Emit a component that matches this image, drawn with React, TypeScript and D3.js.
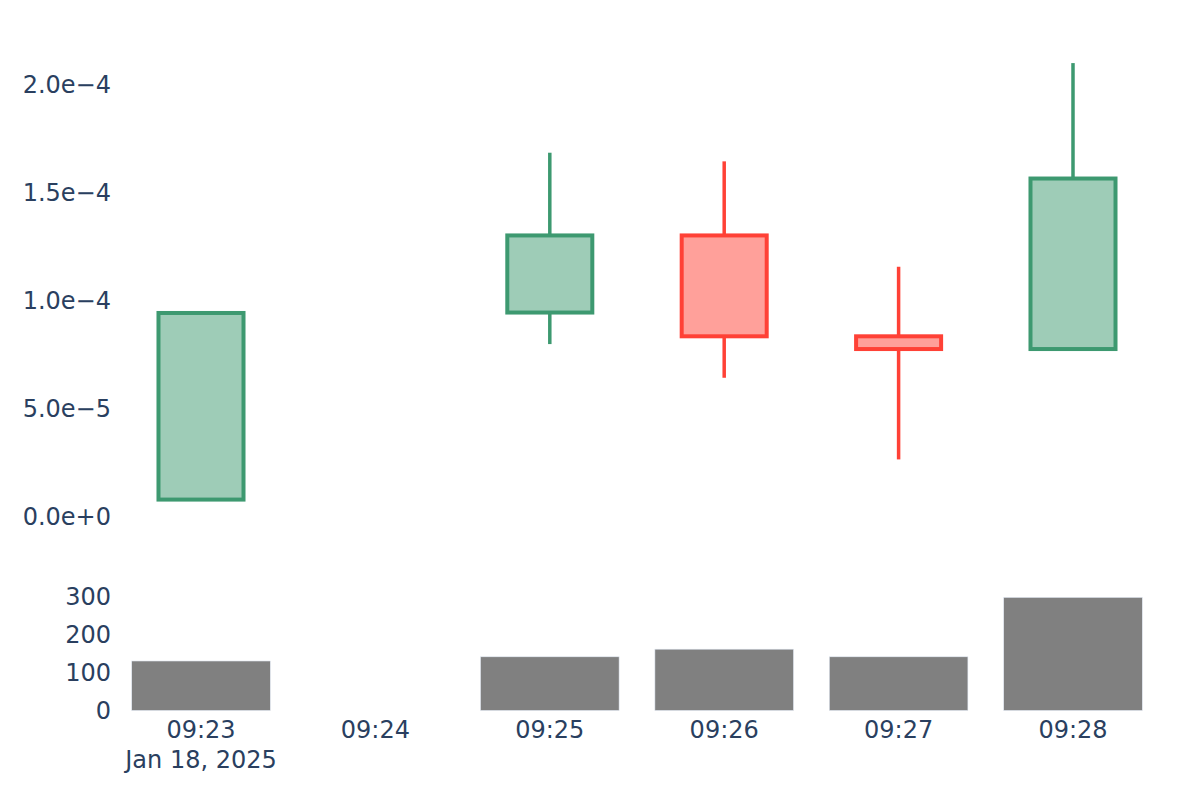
import React from "react";
import * as d3 from "d3";

const times = ["09:23", "09:24", "09:25", "09:26", "09:27", "09:28"];
const dateLabel = "Jan 18, 2025";
const openVals: (number | null)[] = [7.6e-6, null, 9.42e-5, 1.299e-4, 8.32e-5, 7.73e-5];
const highVals: (number | null)[] = [9.4e-5, null, 1.682e-4, 1.642e-4, 1.154e-4, 2.097e-4];
const lowVals: (number | null)[] = [7.6e-6, null, 7.96e-5, 6.4e-5, 2.62e-5, 7.73e-5];
const closeVals: (number | null)[] = [9.4e-5, null, 1.299e-4, 8.32e-5, 7.73e-5, 1.5625e-4];
const volumeVals: (number | null)[] = [130, null, 141, 161, 141, 297];
const priceTicks = [0, 5e-5, 1e-4, 1.5e-4, 2e-4];
const volumeTicks = [0, 100, 200, 300];

const W = 1200;
const H = 800;
const FONT = "'DejaVu Sans', Verdana, sans-serif";
const TEXT = "#2a3f5f";
const INC_LINE = "#3D9970";
const INC_FILL = "rgba(61,153,112,0.5)";
const DEC_LINE = "#FF4136";
const DEC_FILL = "rgba(255,65,54,0.5)";

const parseT = (s: string) => {
  const [h, m] = s.split(":").map(Number);
  return new Date(2025, 0, 18, h, m, 0);
};

function fmtExp(v: number) {
  const s = v.toExponential(1); // e.g. "2.0e-4"
  return s.replace("e-", "e\u2212");
}

export default function App() {
  const dates = times.map(parseT);
  const half = 30 * 1000;
  const x = d3
    .scaleTime()
    .domain([new Date(+dates[0] - half), new Date(+dates[dates.length - 1] + half)])
    .range([113.8, 1160.2]);
  const step = x(dates[1]) - x(dates[0]);
  const yP = d3.scaleLinear().domain([-2.5e-6, 2.19e-4]).range([521.4, 43]);
  const yV = d3.scaleLinear().domain([0, 315]).range([710.5, 590.5]);

  const bodyW = step * 0.4875;
  const barW = step * 0.795;

  return (
    <svg
      width={W}
      height={H}
      style={{ position: "absolute", left: 0, top: 0, background: "#fff" }}
      fontFamily={FONT}
    >
      <rect x={0} y={0} width={W} height={H} fill="#fff" />
      {/* price y ticks */}
      {priceTicks.map((t) => (
        <text
          key={"p" + t}
          x={111}
          y={yP(t) + 8.75}
          textAnchor="end"
          fontSize={24}
          fill={TEXT}
        >
          {fmtExp(t)}
        </text>
      ))}
      {/* volume y ticks */}
      {volumeTicks.map((t) => (
        <text
          key={"v" + t}
          x={111}
          y={yV(t) + 8.75}
          textAnchor="end"
          fontSize={24}
          fill={TEXT}
        >
          {t}
        </text>
      ))}
      {/* volume bars */}
      {volumeVals.map((v, i) =>
        v == null ? null : (
          <rect
            key={"vb" + i}
            x={x(dates[i]) - barW / 2}
            y={yV(v)}
            width={barW}
            height={yV(0) - yV(v)}
            fill="#808080"
            stroke="#E5ECF6"
            strokeWidth={0.6}
          />
        )
      )}
      {/* candles */}
      {dates.map((d, i) => {
        const o = openVals[i], h = highVals[i], l = lowVals[i], c = closeVals[i];
        if (o == null || h == null || l == null || c == null) return null;
        const inc = c >= o;
        const line = inc ? INC_LINE : DEC_LINE;
        const fill = inc ? INC_FILL : DEC_FILL;
        const cx = x(d);
        const top = yP(Math.max(o, c));
        const bot = yP(Math.min(o, c));
        return (
          <g key={"c" + i}>
            {h > Math.max(o, c) && (
              <line x1={cx} x2={cx} y1={yP(h)} y2={top} stroke={line} strokeWidth={3.5} />
            )}
            {l < Math.min(o, c) && (
              <line x1={cx} x2={cx} y1={bot} y2={yP(l)} stroke={line} strokeWidth={3.5} />
            )}
            <rect
              x={cx - bodyW / 2}
              y={top}
              width={bodyW}
              height={Math.max(bot - top, 0.5)}
              fill={fill}
              stroke={line}
              strokeWidth={4}
            />
          </g>
        );
      })}
      {/* x tick labels */}
      {dates.map((d, i) => (
        <text
          key={"x" + i}
          x={x(d)}
          y={738}
          textAnchor="middle"
          fontSize={24}
          fill={TEXT}
        >
          {times[i]}
        </text>
      ))}
      <text x={x(dates[0])} y={768} textAnchor="middle" fontSize={24} fill={TEXT}>
        {dateLabel}
      </text>
    </svg>
  );
}
